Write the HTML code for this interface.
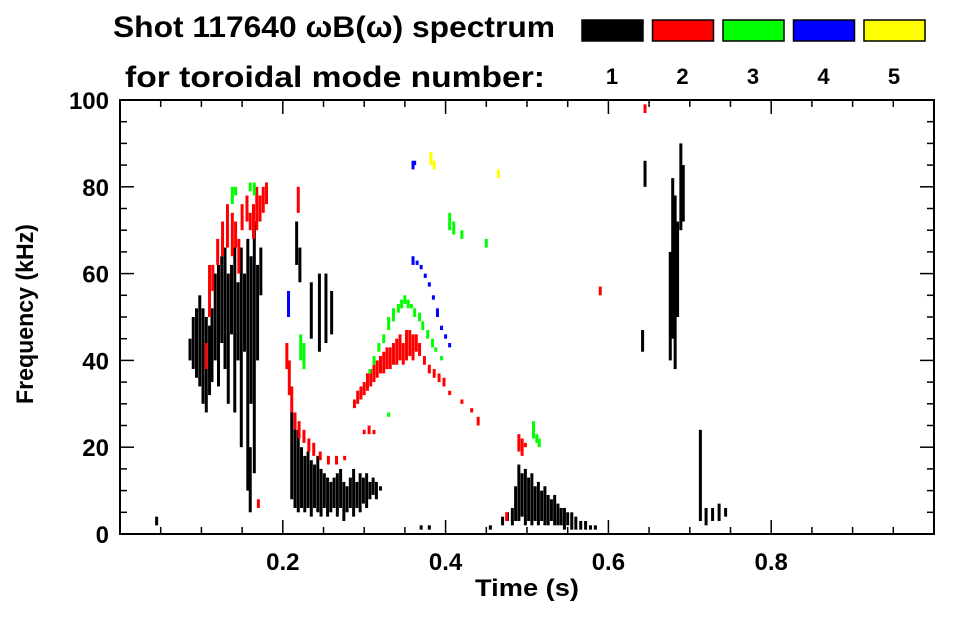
<!DOCTYPE html>
<html><head><meta charset="utf-8"><style>
body{margin:0;background:#fff;width:963px;height:615px;overflow:hidden;font-family:"Liberation Sans",sans-serif}
svg text{font-family:"Liberation Sans",sans-serif;font-weight:bold;fill:#000}
</style></head><body>
<svg id="chart" width="963" height="615" viewBox="0 0 963 615">
<g id="title">
<text x="113" y="37" font-size="30" textLength="442" lengthAdjust="spacingAndGlyphs">Shot 117640 ωB(ω) spectrum</text>
<text x="125" y="87" font-size="30" textLength="420" lengthAdjust="spacingAndGlyphs">for toroidal mode number:</text>
</g>
<g id="legend"></g>
<g id="marks"></g>
<g id="axes"></g>
<text x="527" y="596" font-size="24" text-anchor="middle" textLength="104" lengthAdjust="spacingAndGlyphs">Time (s)</text>
<text transform="translate(33,314) rotate(-90)" font-size="24" text-anchor="middle" textLength="180" lengthAdjust="spacingAndGlyphs">Frequency (kHz)</text>
</svg>
<script>
const modeLabels = ["1","2","3","4","5"];
const modeColors = ["#000000","#ff0000","#00ff00","#0000ff","#ffff00"];
const xTicks = [0.2,0.4,0.6,0.8];
const yTicks = [0,20,40,60,80,100];
// strokes: [time(s), fLow(kHz), fHigh(kHz)]
const mode1 = [[0.086,40,45],[0.090,38,50],[0.094,36,52],[0.098,34,55],[0.102,30,52],[0.106,28,50],[0.110,32,48],[0.113,35,52],
[0.117,40,60],[0.121,34,62],[0.125,44,64],[0.129,38,66],[0.133,30,60],[0.137,46,62],[0.141,28,66],[0.145,40,58],[0.149,20,66],[0.153,42,60],[0.157,10,68],[0.161,30,64],[0.165,14,72],[0.169,40,62],[0.173,55,66],[0.160,5,20],
[0.217,62,72],[0.221,58,66],[0.235,45,58],[0.245,42,60],[0.253,44,60],[0.260,46,56],
[0.211,8,28],[0.215,6,26],[0.219,5,24],[0.223,6,20],[0.227,5,18],[0.231,6,19],[0.235,4,17],[0.239,6,16],[0.243,5,18],[0.247,4,15],[0.251,6,14],[0.255,4,13],[0.259,5,12],[0.263,6,13],[0.267,4,14],[0.271,6,15],[0.275,3,12],[0.279,5,11],[0.283,6,13],[0.287,4,15],[0.291,6,12],[0.295,5,14],[0.299,7,13],[0.303,6,14],[0.307,8,12],[0.311,9,13],[0.315,8,12],[0.320,10,11],
[0.470,2,4],[0.476,3,5],[0.482,2,6],[0.486,3,11],[0.490,3,16],[0.494,4,14],[0.498,2,15],[0.502,3,13],[0.506,2,14],[0.510,3,11],[0.514,2,12],[0.518,3,10],[0.522,2,11],[0.526,2,9],[0.530,3,8],[0.534,2,9],[0.538,2,7],[0.542,2,6],[0.546,1,6],[0.550,2,5],[0.555,1,5],[0.560,1,4],[0.566,1,3],[0.572,1,3],[0.578,1,2],[0.584,1,2],
[0.676,40,65],[0.679,45,82],[0.682,38,78],[0.685,50,72],[0.689,70,90],[0.692,72,85],
[0.713,3,24],[0.720,2,6],[0.728,3,6],[0.736,3,7],[0.744,4,6],[0.045,2,4],[0.642,42,47],[0.645,80,86],[0.455,1,2],[0.37,1,2],[0.38,1,2]];
const mode2 = [[0.106,38,44],[0.110,50,62],[0.114,56,62],[0.120,62,68],[0.126,64,72],[0.132,66,76],[0.138,64,74],[0.142,66,72],[0.146,60,68],[0.150,70,76],[0.156,72,78],[0.160,70,74],[0.164,68,76],[0.168,70,80],[0.172,72,78],[0.176,74,80],[0.180,76,81],[0.219,74,80],
[0.205,38,44],[0.208,32,40],[0.211,28,34],[0.215,24,28],[0.220,22,26],[0.226,21,24],[0.232,19,22],[0.238,18,21],[0.246,17,19],[0.256,16,18],[0.266,16,18],[0.276,17,18],[0.300,23,24],[0.306,23,25],[0.312,23,24],
[0.288,29,31],[0.292,30,33],[0.296,31,34],[0.300,32,35],[0.304,33,37],[0.308,34,38],[0.312,35,39],[0.316,36,40],[0.320,37,41],[0.324,37,42],[0.328,38,43],[0.332,38,43],[0.336,39,44],[0.340,39,45],[0.344,40,46],[0.348,39,44],[0.352,40,47],[0.356,41,47],[0.360,40,46],[0.364,42,46],[0.368,41,44],[0.374,39,41],[0.380,37,39],[0.386,36,38],[0.392,35,37],[0.398,34,36],[0.405,32,33],[0.42,30,31],[0.432,28,29],[0.44,25,27],
[0.49,19,23],[0.494,18,22],[0.498,20,21],[0.475,3,5],[0.59,55,57],[0.645,97,99],[0.17,6,8]];
const mode3 = [[0.138,76,80],[0.142,78,80],[0.16,79,81],[0.165,78,81],[0.222,40,46],[0.226,38,44],
[0.307,37,38],[0.312,39,41],[0.318,42,44],[0.324,44,46],[0.330,47,50],[0.336,49,52],[0.342,51,53],[0.346,52,54],[0.350,53,55],[0.354,52,54],[0.358,52,53],[0.362,50,52],[0.368,49,51],[0.372,47,49],[0.378,45,47],[0.384,43,45],[0.388,42,43],[0.395,40,41],
[0.405,70,74],[0.41,69,72],[0.42,68,70],[0.45,66,68],[0.508,22,26],[0.512,21,23],[0.515,20,22],[0.33,27,28]];
const mode4 = [[0.207,50,56],[0.36,62,64],[0.365,62,63],[0.37,61,62],[0.375,59,60],[0.38,57,58],[0.385,54,55],[0.39,50,52],[0.395,47,48],[0.4,45,46],[0.405,43,44],[0.36,84,86],[0.362,85,86]];
const mode5 = [[0.382,85,88],[0.386,84,86],[0.465,82,84]];
const modes = [mode1,mode2,mode3,mode4,mode5];

const L=120,R=934,T=100,B=534,xMax=1.0,yMax=100;
const X=t=>L+(R-L)*t/xMax, Y=f=>B-(B-T)*f/yMax;
const NS="http://www.w3.org/2000/svg";
function mk(tag,attrs,parent){const e=document.createElementNS(NS,tag);for(const k in attrs)e.setAttribute(k,attrs[k]);parent.appendChild(e);return e;}

const marks=document.getElementById('marks');
modes.forEach((m,mi)=>{m.forEach(s=>{
  const r=mk('rect',{x:X(s[0])-1.5,y:Y(s[2]),width:3,height:Math.max(2,Y(s[1])-Y(s[2])),fill:modeColors[mi]},marks);
  
  
});});

const axes=document.getElementById('axes');
const frame=mk('rect',{x:L,y:T,width:R-L,height:B-T,fill:'none',stroke:'#000','stroke-width':2},axes);


for(let t=0.05;t<xMax-0.001;t+=0.05){
  const major=xTicks.some(v=>Math.abs(v-t)<1e-6);const len=major?14:7;
  mk('line',{x1:X(t),x2:X(t),y1:B,y2:B-len,stroke:'#000','stroke-width':1.5},axes);
  mk('line',{x1:X(t),x2:X(t),y1:T,y2:T+len,stroke:'#000','stroke-width':1.5},axes);
}
xTicks.forEach(v=>{const tx=mk('text',{x:X(v),y:B+36,'font-size':24,'text-anchor':'middle'},axes);tx.textContent=v.toFixed(1);
  
  });
for(let f=5;f<yMax;f+=5){
  const major=yTicks.includes(f);const len=major?14:7;
  mk('line',{x1:L,x2:L+len,y1:Y(f),y2:Y(f),stroke:'#000','stroke-width':1.5},axes);
  mk('line',{x1:R,x2:R-len,y1:Y(f),y2:Y(f),stroke:'#000','stroke-width':1.5},axes);
}
yTicks.forEach(v=>{const tx=mk('text',{x:L-11,y:Y(v)+9,'font-size':24,'text-anchor':'end'},axes);tx.textContent=v;
  
  });

const legend=document.getElementById('legend');
modeLabels.forEach((lab,i)=>{
  const x=582+i*70.5;
  const r=mk('rect',{x:x,y:20,width:61,height:21,fill:modeColors[i],stroke:'#000','stroke-width':1.5},legend);
  
  
  const tx=mk('text',{x:x+30,y:84,'font-size':22,'text-anchor':'middle'},legend);tx.textContent=lab;
  
  
});
</script>
</body></html>
